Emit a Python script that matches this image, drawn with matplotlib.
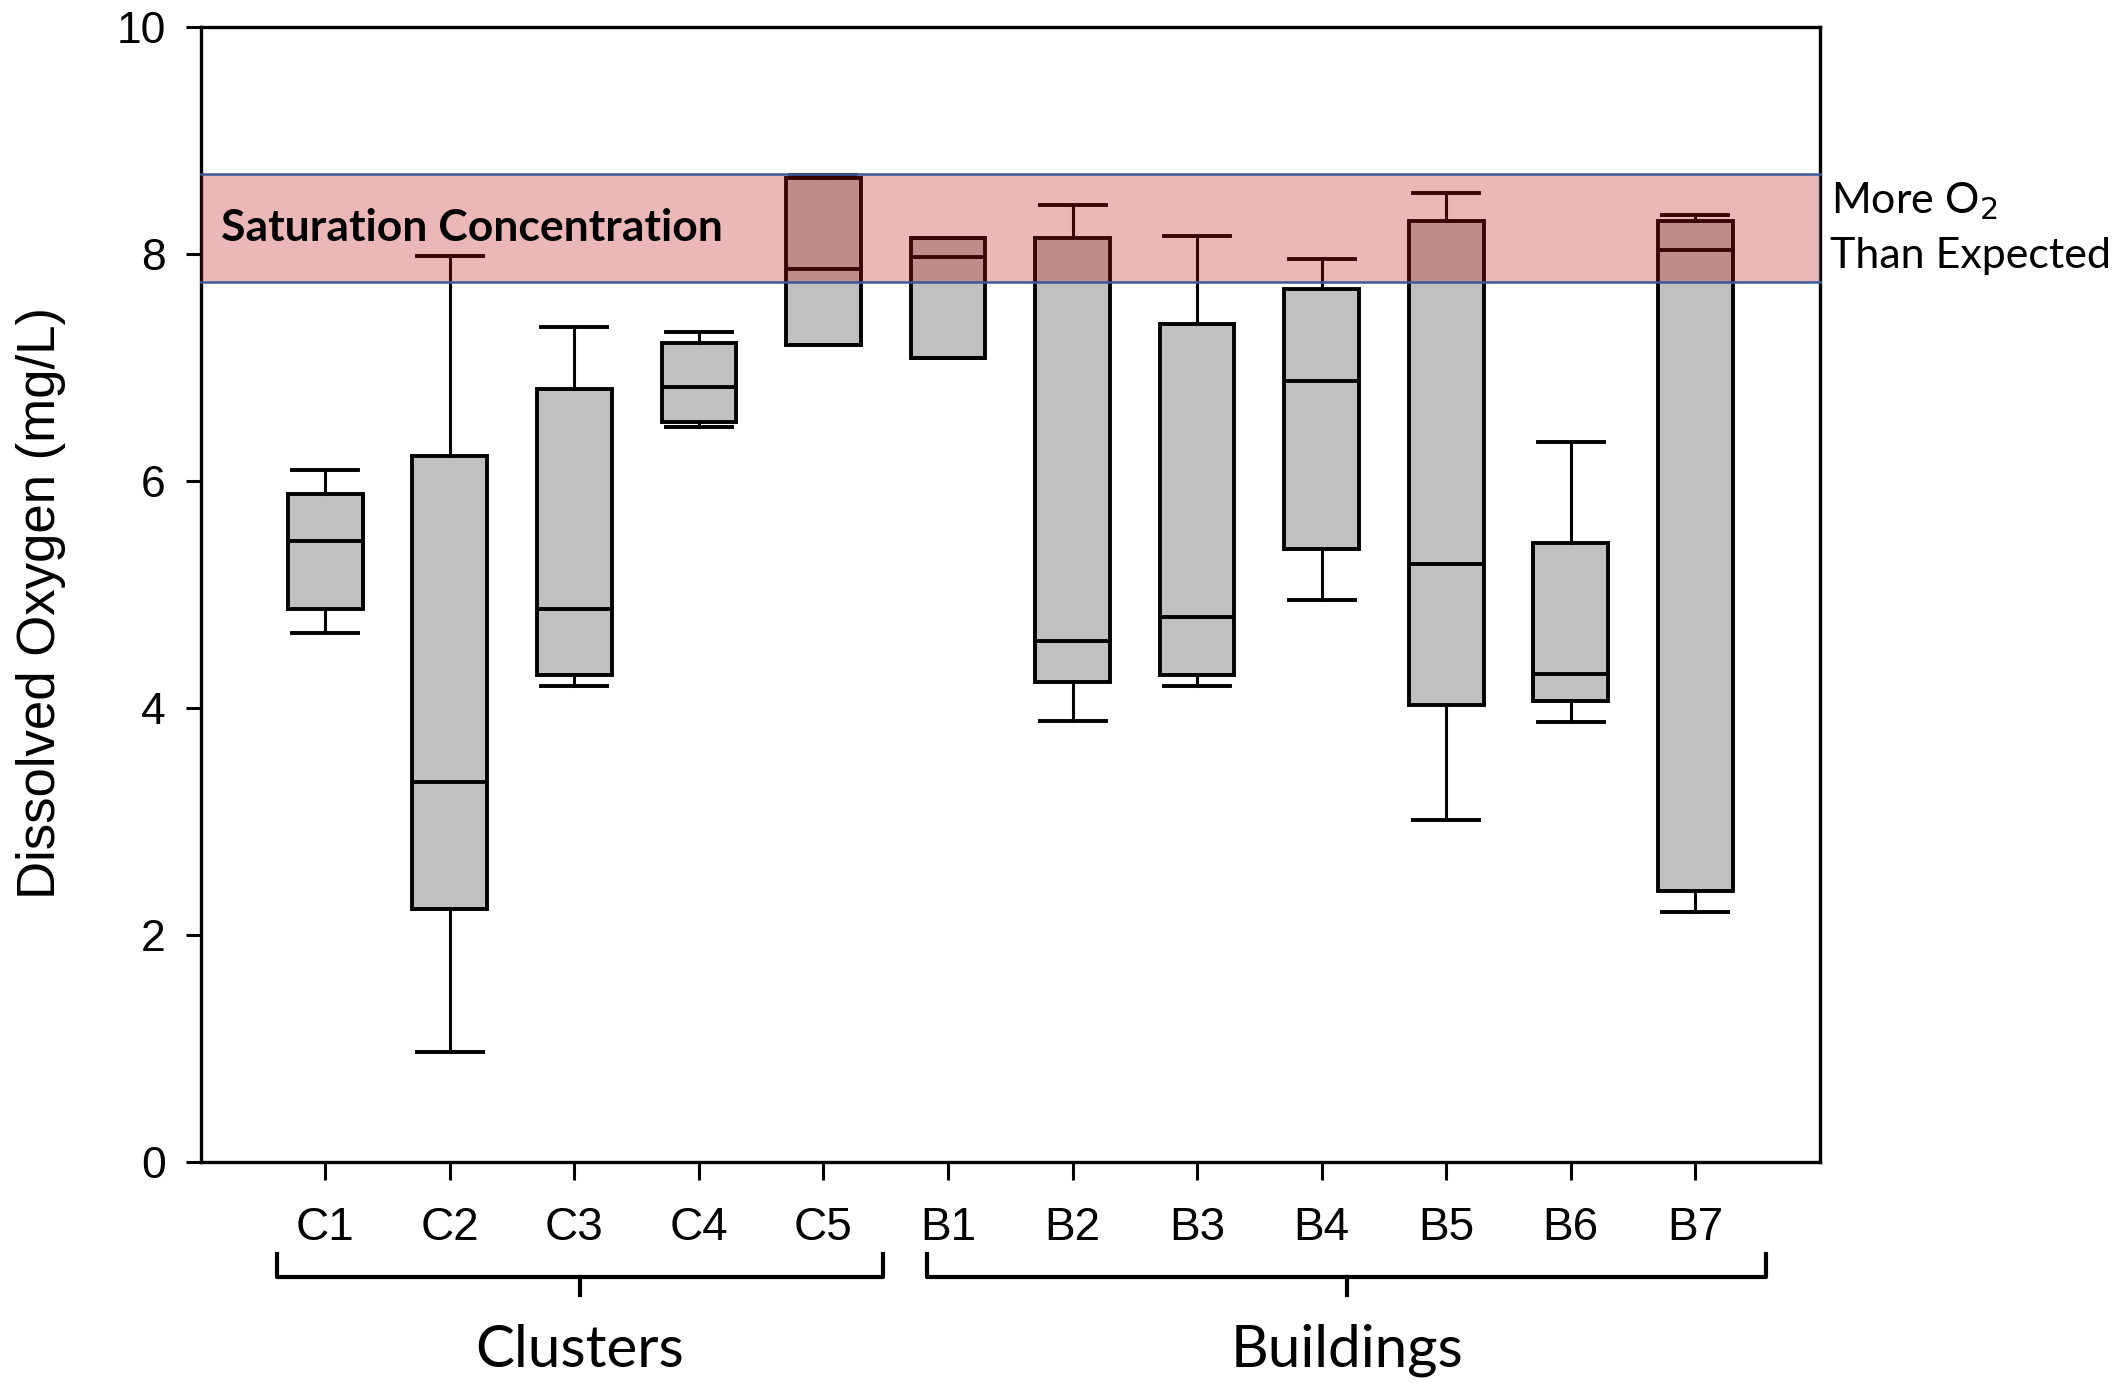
import matplotlib
matplotlib.use('Agg')
import matplotlib.pyplot as plt
import matplotlib.transforms as mtransforms
from matplotlib.patches import Rectangle
from matplotlib.lines import Line2D

# ---------------- data ----------------
labels = ['C1', 'C2', 'C3', 'C4', 'C5', 'B1', 'B2', 'B3', 'B4', 'B5', 'B6', 'B7']
whisker_low = [4.66, 0.97, 4.19, 6.48, 7.20, 7.08, 3.89, 4.19, 4.95, 3.01, 3.88, 2.20]
q1_vals = [4.87, 2.23, 4.29, 6.52, 7.20, 7.08, 4.23, 4.29, 5.40, 4.03, 4.06, 2.39]
medians = [5.47, 3.35, 4.87, 6.83, 7.87, 7.97, 4.59, 4.80, 6.88, 5.27, 4.30, 8.04]
q3_vals = [5.89, 6.22, 6.81, 7.22, 8.67, 8.14, 8.14, 7.38, 7.69, 8.29, 5.45, 8.29]
whisker_high = [6.10, 7.98, 7.36, 7.31, 8.70, 8.14, 8.43, 8.16, 7.96, 8.54, 6.34, 8.34]
sat_low, sat_high = 7.75, 8.71
groups = ['Clusters', 'Buildings']
group_spans = [(0.61, 5.48), (5.83, 12.57)]

# ---------------- figure ----------------
fig = plt.figure(figsize=(21.26, 13.83), dpi=100)
ax = fig.add_axes([0.0944, 0.1598, 0.7616, 0.8206])

stats = [dict(label=l, whislo=wl, q1=a, med=m, q3=b, whishi=wh, fliers=[])
         for l, wl, a, m, b, wh in zip(labels, whisker_low, q1_vals, medians, q3_vals, whisker_high)]
positions = list(range(1, len(labels) + 1))
ax.bxp(stats, positions=positions, widths=0.6, capwidths=0.53, patch_artist=True,
       showfliers=False,
       boxprops=dict(facecolor='#c0c0c0', edgecolor='black', linewidth=2.8),
       medianprops=dict(color='black', linewidth=2.8, solid_capstyle='butt'),
       whiskerprops=dict(color='black', linewidth=2.2),
       capprops=dict(color='black', linewidth=2.8))

# saturation band (overlay)
trans_band = mtransforms.blended_transform_factory(ax.transAxes, ax.transData)
band = Rectangle((0, sat_low), 1, sat_high - sat_low, transform=trans_band,
                 facecolor=(195/255, 18/255, 18/255, 0.30), edgecolor='none', zorder=5)
ax.add_patch(band)
for yv in (sat_low, sat_high):
    ax.plot([0, 1], [yv, yv], transform=trans_band, color='#3b5b9a', lw=1.8, zorder=6,
            clip_on=False)
ax.plot([1, 1], [sat_low, sat_high], transform=trans_band, color='#3b5b9a', lw=1.8, zorder=6)

ax.text(0.16, 8.23, 'Saturation Concentration', fontsize=32, fontweight='bold',
        family=['Lato', 'DejaVu Sans'], va='center', ha='left', zorder=7)

ax.text(1.007, 8.47, 'More O$_2$', transform=trans_band, fontsize=31,
        family=['Lato', 'DejaVu Sans'], va='center', ha='left')
ax.text(1.006, 7.98, 'Than Expected', transform=trans_band, fontsize=31,
        family=['Lato', 'DejaVu Sans'], va='center', ha='left')

# axes styling
ax.set_xlim(0, 13)
ax.set_ylim(0, 10)
ax.set_yticks([0, 2, 4, 6, 8, 10])
ax.set_xticks(positions)
ax.set_xticklabels(labels, family=['Liberation Sans Narrow', 'Liberation Sans'], fontsize=33)
for lab in ax.get_yticklabels():
    lab.set_family(['Liberation Sans', 'DejaVu Sans'])
    lab.set_fontsize(32)
ax.tick_params(axis='x', direction='out', length=13, width=2.2, pad=19)
ax.tick_params(axis='y', direction='out', length=11, width=2.2, pad=14)
for sp in ax.spines.values():
    sp.set_linewidth(2.4)

fig.text(0.0193, 0.564, 'Dissolved Oxygen (mg/L)', rotation=90, ha='center', va='center',
         fontsize=38, family=['Liberation Sans', 'DejaVu Sans'])

# braces and group labels
trans_br = mtransforms.blended_transform_factory(ax.transData, ax.transAxes)
y_top, y_bot, y_tip = -0.081, -0.1016, -0.117
for (x0, x1), name in zip(group_spans, groups):
    xc = (x0 + x1) / 2
    ax.add_line(Line2D([x0, x0, x1, x1], [y_top, y_bot, y_bot, y_top], transform=trans_br,
                       color='black', lw=3.0, clip_on=False, solid_joinstyle='round'))
    ax.add_line(Line2D([xc, xc], [y_bot, y_tip], transform=trans_br,
                       color='black', lw=3.0, clip_on=False))
    ax.text(xc, -0.166, name, transform=trans_br, ha='center', va='center', fontsize=42,
            family=['Lato', 'DejaVu Sans'])

fig.savefig('out.png', dpi=100)
